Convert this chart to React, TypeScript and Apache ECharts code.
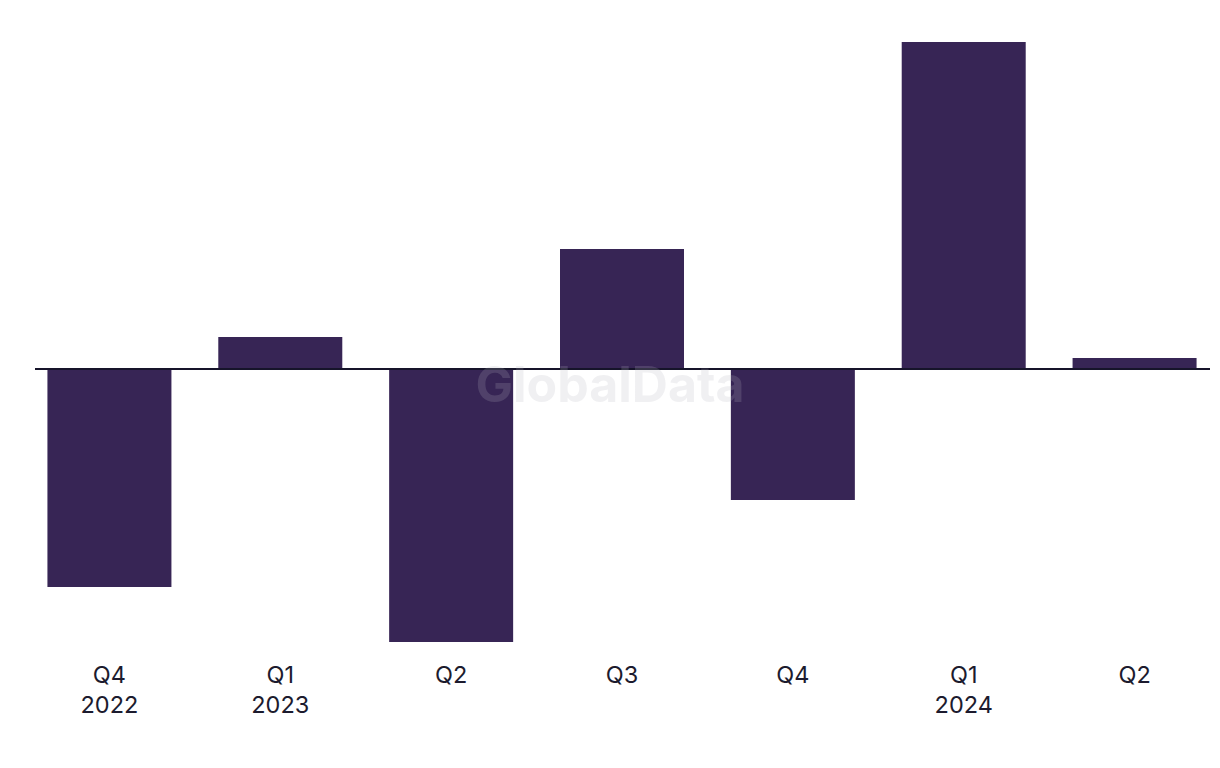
import React, { useEffect, useRef } from "react";
import * as echarts from "echarts";

const categories = ["Q4\n2022", "Q1\n2023", "Q2", "Q3", "Q4", "Q1\n2024", "Q2"];
const values = [-21.8, 3.2, -27.3, 12.0, -13.1, 32.7, 1.1];
const yMin = -27.3;
const yMax = 32.7;

export default function App() {
  const ref = useRef<HTMLDivElement>(null);
  useEffect(() => {
    if (!ref.current) return;
    const chart = echarts.init(ref.current, null, { renderer: "svg" });
    chart.setOption({
      animation: false,
      backgroundColor: "#ffffff",
      grid: { left: 24, width: 1199, top: 42, bottom: 126, containLabel: false },
      xAxis: {
        type: "category",
        data: categories,
        axisLine: { show: false },
        axisTick: { show: false },
        axisLabel: {
          color: "#1c1b2e",
          fontFamily: "Inter",
          fontSize: 23.5,
          lineHeight: 30,
          margin: 17,
          interval: 0,
        },
      },
      yAxis: {
        type: "value",
        min: yMin,
        max: yMax,
        show: false,
        splitLine: { show: false },
      },
      series: [
        {
          type: "bar",
          data: values,
          barWidth: 124,
          itemStyle: { color: "#372555" },
        },
      ],
    });
    const zeroY = chart.convertToPixel({ yAxisIndex: 0 }, 0) as number;
    chart.setOption({
      graphic: [
        {
          type: "line",
          z: 10,
          shape: { x1: 35, y1: zeroY, x2: 1210, y2: zeroY },
          style: { stroke: "#16142a", lineWidth: 2 },
        },
        {
          type: "text",
          z: 20,
          x: 610,
          y: 384,
          style: {
            text: "GlobalData",
            fontFamily: "Inter",
            fontWeight: "bold",
            fontSize: 50,
            fill: "rgba(180,180,190,0.2)",
            align: "center",
            verticalAlign: "middle",
          },
        },
      ],
    });
    return () => chart.dispose();
  }, []);
  return (
    <div
      ref={ref}
      style={{ position: "absolute", left: 0, top: 0, width: 1220, height: 768 }}
    />
  );
}
